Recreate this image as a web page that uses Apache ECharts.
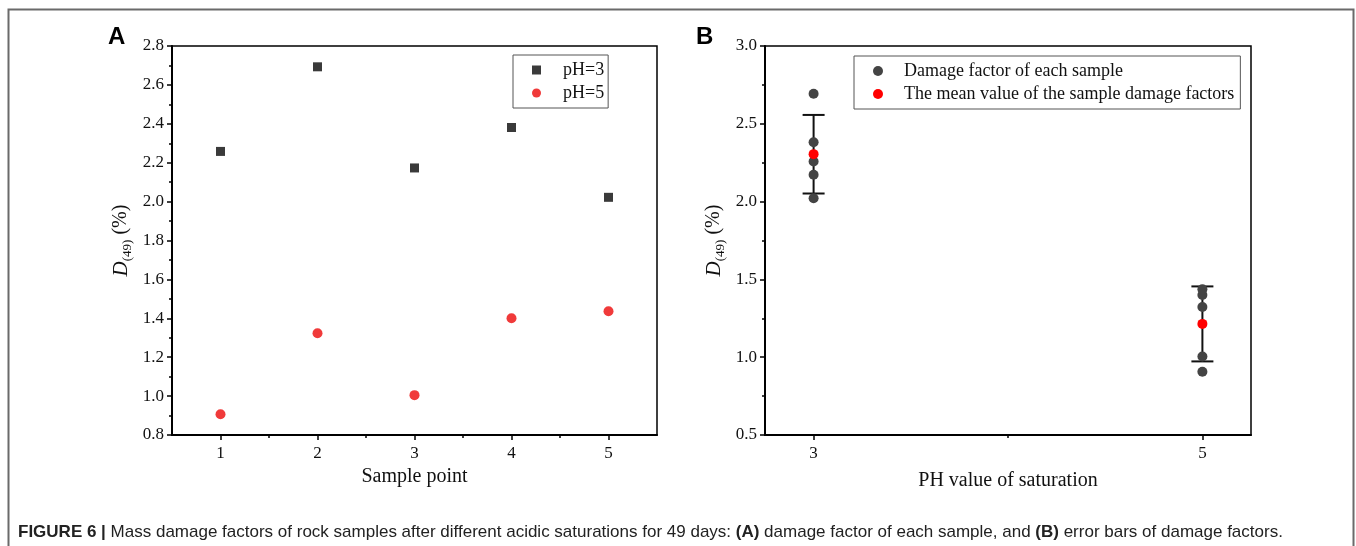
<!DOCTYPE html>
<html>
<head>
<meta charset="utf-8">
<script src="https://cdn.jsdelivr.net/npm/echarts@6/dist/echarts.min.js"></script>
<style>
  html, body { margin: 0; padding: 0; background: #fff; }
  #chart { width: 1356px; height: 546px; }
</style>
</head>
<body>
<div id="chart"></div>
<script>
// panel A: damage factor per sample point
var samplePoints = [1, 2, 3, 4, 5];
var damagePH3 = [2.258, 2.693, 2.173, 2.381, 2.022];
var damagePH5 = [0.907, 1.323, 1.005, 1.400, 1.436];

// panel B: grouped by pH, with mean and error bar ends
var phValues = [3, 5];
var meanDamage = [2.305, 1.214];
var errTop = [2.557, 1.455];
var errBottom = [2.052, 0.973];

var axisTicksA = [1, 2, 3, 4, 5];
var minorTicksA = [1.5, 2.5, 3.5, 4.5];
var axisTicksB = [3, 5];
var minorTicksB = [4];

var serif = '"Liberation Serif", "Times New Roman", serif';
var sans = '"Liberation Sans", Arial, sans-serif';

function yName() {
    return '{i|D}{s|(49)}{n| (%)}';
}
var yNameRich = {
    i: { fontFamily: serif, fontStyle: 'italic', fontSize: 21, lineHeight: 26, color: '#111' },
    s: { fontFamily: serif, fontSize: 13, lineHeight: 13, verticalAlign: 'bottom', color: '#111' },
    n: { fontFamily: serif, fontSize: 20, lineHeight: 26, color: '#111' }
};

function mainX(grid, min, max, ticks, name, gap) {
    return {
        gridIndex: grid, type: 'value', min: min, max: max,
        name: name, nameLocation: 'middle', nameGap: gap,
        nameTextStyle: { fontFamily: serif, fontSize: 20, color: '#111' },
        axisLine: { lineStyle: { color: '#000', width: 2 } },
        axisTick: { customValues: ticks, length: 5, lineStyle: { color: '#000', width: 1.5 } },
        axisLabel: { customValues: ticks, margin: 10, fontFamily: serif, fontSize: 17, color: '#111' },
        splitLine: { show: false }
    };
}
function minorX(grid, min, max, ticks) {
    return {
        gridIndex: grid, type: 'value', min: min, max: max, position: 'bottom',
        axisLine: { show: false },
        axisTick: { customValues: ticks, length: 3, lineStyle: { color: '#000', width: 1.5 } },
        axisLabel: { show: false },
        splitLine: { show: false }
    };
}
function mainY(grid, min, max, interval) {
    return {
        gridIndex: grid, type: 'value', min: min, max: max, interval: interval,
        name: yName(), nameLocation: 'middle', nameGap: 38, nameRotate: 90,
        nameTextStyle: { rich: yNameRich },
        axisLine: { lineStyle: { color: '#000', width: 2 } },
        axisTick: { length: 5, lineStyle: { color: '#000', width: 1.5 } },
        minorTick: { show: true, splitNumber: 2, length: 3, lineStyle: { color: '#000', width: 1.5 } },
        axisLabel: {
            margin: 8, fontFamily: serif, fontSize: 17, color: '#111',
            formatter: function (v) { return v.toFixed(1); }
        },
        splitLine: { show: false }
    };
}

var option = {
    animation: false,
    grid: [
        { left: 172, top: 46, width: 485, height: 389, show: true, borderColor: '#000', borderWidth: 1.5 },
        { left: 765, top: 46, width: 486, height: 389, show: true, borderColor: '#000', borderWidth: 1.5 }
    ],
    xAxis: [
        mainX(0, 0.5, 5.5, axisTicksA, 'Sample point', 28),
        minorX(0, 0.5, 5.5, minorTicksA),
        mainX(1, 2.75, 5.25, axisTicksB, 'PH value of saturation', 36),
        minorX(1, 2.75, 5.25, minorTicksB)
    ],
    yAxis: [
        mainY(0, 0.8, 2.8, 0.2),
        mainY(1, 0.5, 3.0, 0.5)
    ],
    legend: [
        {
            data: ['pH=3', 'pH=5'],
            orient: 'vertical', left: 513, top: 55,
            borderColor: '#555', borderWidth: 1,
            padding: [6, 4, 6, 19], itemGap: 5,
            itemWidth: 9, itemHeight: 9,
            textStyle: { fontFamily: serif, fontSize: 18, color: '#111', padding: [0, 0, 0, 17] }
        },
        {
            data: ['Damage factor of each sample', 'The mean value of the sample damage factors'],
            orient: 'vertical', left: 854, top: 56,
            borderColor: '#555', borderWidth: 1,
            padding: [6, 6, 6, 19], itemGap: 5,
            itemWidth: 10, itemHeight: 10,
            textStyle: { fontFamily: serif, fontSize: 18, color: '#111', padding: [0, 0, 0, 16] }
        }
    ],
    series: [
        {
            name: 'pH=3', type: 'scatter', xAxisIndex: 0, yAxisIndex: 0,
            symbol: 'rect', symbolSize: 9,
            itemStyle: { color: '#3a3a3a', opacity: 1 },
            data: samplePoints.map(function (s, i) { return [s, damagePH3[i]]; })
        },
        {
            name: 'pH=5', type: 'scatter', xAxisIndex: 0, yAxisIndex: 0,
            symbol: 'circle', symbolSize: 10,
            itemStyle: { color: '#f03a3a', opacity: 1 },
            data: samplePoints.map(function (s, i) { return [s, damagePH5[i]]; })
        },
        {
            name: 'error bar', type: 'custom', xAxisIndex: 2, yAxisIndex: 1,
            data: phValues.map(function (p, i) { return [p, errBottom[i], errTop[i]]; }),
            renderItem: function (params, api) {
                var lo = api.coord([api.value(0), api.value(1)]);
                var hi = api.coord([api.value(0), api.value(2)]);
                var w = 11;
                var st = { stroke: '#111', lineWidth: 2 };
                return {
                    type: 'group',
                    children: [
                        { type: 'line', shape: { x1: lo[0], y1: lo[1], x2: hi[0], y2: hi[1] }, style: st },
                        { type: 'line', shape: { x1: hi[0] - w, y1: hi[1], x2: hi[0] + w, y2: hi[1] }, style: st },
                        { type: 'line', shape: { x1: lo[0] - w, y1: lo[1], x2: lo[0] + w, y2: lo[1] }, style: st }
                    ]
                };
            }
        },
        {
            name: 'Damage factor of each sample', type: 'scatter', xAxisIndex: 2, yAxisIndex: 1,
            symbol: 'circle', symbolSize: 10,
            itemStyle: { color: '#444444', opacity: 1 },
            data: damagePH3.map(function (v) { return [phValues[0], v]; })
                .concat(damagePH5.map(function (v) { return [phValues[1], v]; }))
        },
        {
            name: 'The mean value of the sample damage factors', type: 'scatter', xAxisIndex: 2, yAxisIndex: 1,
            symbol: 'circle', symbolSize: 10,
            itemStyle: { color: '#ff0000', opacity: 1 },
            data: phValues.map(function (p, i) { return [p, meanDamage[i]]; })
        }
    ],
    graphic: [
        {
            type: 'polyline', silent: true,
            shape: { points: [[8.5, 546], [8.5, 9.5], [1353.5, 9.5], [1353.5, 546]] },
            style: { fill: null, stroke: '#6a6a6a', lineWidth: 2 }
        },
        {
            type: 'text', left: 108, top: 25,
            style: { text: 'A', font: 'bold 24px ' + sans, fill: '#000' }
        },
        {
            type: 'text', left: 696, top: 25,
            style: { text: 'B', font: 'bold 24px ' + sans, fill: '#000' }
        },
        {
            type: 'text', left: 18, top: 524,
            style: {
                text: '{b|FIGURE 6 |} Mass damage factors of rock samples after different acidic saturations for 49 days: {b|(A)} damage factor of each sample, and {b|(B)} error bars of damage factors.',
                fontFamily: sans, fontSize: 17, fill: '#222',
                rich: { b: { fontFamily: sans, fontSize: 17, fontWeight: 'bold', fill: '#222' } }
            }
        }
    ]
};

var myChart = echarts.init(document.getElementById('chart'));
myChart.setOption(option);
</script>
</body>
</html>
